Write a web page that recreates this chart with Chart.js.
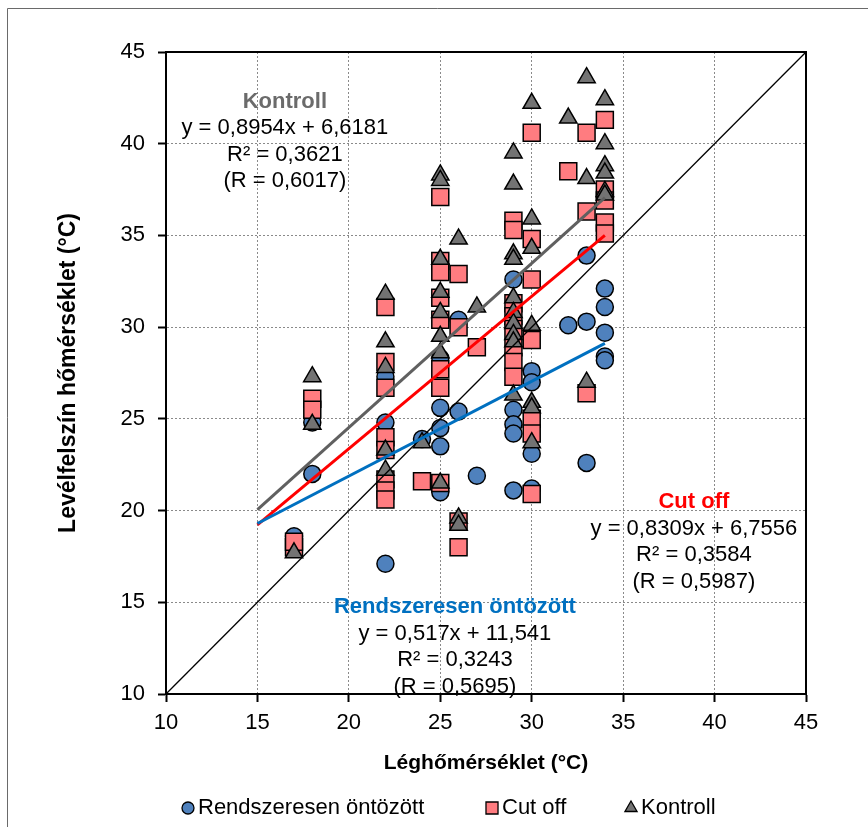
<!DOCTYPE html>
<html>
<head>
<meta charset="utf-8">
<script src="https://cdn.jsdelivr.net/npm/chart.js@4.4.0/dist/chart.umd.min.js"></script>
<style>
    html, body { margin: 0; padding: 0; background: #fff; }
    #wrap { width: 868px; height: 827px; position: relative; }
</style>
</head>
<body>
<div id="wrap"><canvas id="myChart" width="868" height="827"></canvas></div>
<script>
'use strict';

var seriesNames = ['Rendszeresen öntözött', 'Cut off', 'Kontroll'];
var axisTicks = [10, 15, 20, 25, 30, 35, 40, 45];

// Rendszeresen öntözött
var irrigatedX = [17, 18, 18, 22, 22, 22, 24, 25, 25, 25, 25, 25, 26, 26, 27,
    29, 29, 29, 29, 29, 30, 30, 30, 30, 32, 33, 33, 33, 34, 34, 34, 34, 34];
var irrigatedY = [18.6, 22.0, 24.8, 17.1, 24.8, 27.3, 23.9, 25.6, 24.5, 23.5, 21.0, 28.3, 30.4, 25.4, 21.9,
    32.6, 25.5, 24.7, 24.2, 21.1, 27.6, 27.0, 23.1, 21.2, 30.1, 30.3, 33.9, 22.6, 32.1, 31.1, 29.7, 28.4, 28.2];

// Cut off
var cutX = [17, 17, 18, 18, 22, 22, 22, 22, 22, 22, 22, 22, 24,
    25, 25, 25, 25, 25, 25, 25, 25, 26, 26, 26, 26, 27,
    29, 29, 29, 29, 29, 29, 29, 29, 30, 30, 30, 30, 30, 30, 30,
    32, 33, 33, 33, 34, 34, 34, 34, 34];
var cutY = [18.0, 18.3, 26.1, 25.5, 31.1, 28.1, 26.7, 24.0, 23.3, 21.7, 21.1, 20.6, 21.6,
    37.1, 33.6, 33.0, 31.6, 30.4, 27.7, 26.7, 21.5, 32.9, 30.0, 19.4, 18.0, 28.9,
    35.8, 35.3, 31.3, 30.6, 29.9, 28.9, 28.1, 27.3, 40.6, 34.8, 32.6, 29.3, 25.0, 24.2, 20.9,
    38.5, 40.6, 36.3, 26.4, 41.3, 37.5, 36.9, 35.7, 35.1];

// Kontroll
var controlX = [17, 18, 18, 22, 22, 22, 22, 22, 24,
    25, 25, 25, 25, 25, 25, 25, 25, 26, 26, 26, 27,
    29, 29, 29, 29, 29, 29, 29, 29, 29, 29, 30, 30, 30, 30, 30, 30, 30,
    32, 33, 33, 33, 34, 34, 34, 34, 34, 34];
var controlY = [17.7, 27.3, 24.7, 31.8, 29.2, 27.8, 23.3, 22.2, 23.7,
    38.3, 38.0, 33.7, 31.9, 30.8, 29.5, 28.6, 21.5, 34.8, 19.6, 19.2, 31.1,
    39.5, 37.8, 34.0, 33.7, 31.6, 30.8, 30.2, 29.6, 29.2, 26.3, 42.2, 35.9, 34.3, 30.1, 25.9, 25.6, 23.7,
    41.4, 43.6, 38.1, 27.0, 42.4, 40.0, 38.8, 38.4, 37.4, 37.2];

// trend lines (same order as seriesNames)
var trendSlope = [0.517, 0.8309, 0.8954];
var trendIntercept = [11.541, 6.7556, 6.6181];
var trendRange = [15, 34];
var trendLabels = [
    ['y = 0,517x + 11,541', 'R² = 0,3243', '(R = 0,5695)'],
    ['y = 0,8309x + 6,7556', 'R² = 0,3584', '(R = 0,5987)'],
    ['y = 0,8954x + 6,6181', 'R² = 0,3621', '(R = 0,6017)']
];
var oneToOne = [10, 45];

var FONT = '"Liberation Sans", Arial, Helvetica, sans-serif';
var markerFill = ['#4F81BD', '#FF7C80', '#737373'];
var markerStyle = ['circle', 'rect', 'triangle'];
var markerRadius = [8.5, 12, 10];
var lineColor = ['#0070C0', '#FF0000', '#606060'];
var titleColor = ['#0070C0', '#FF0000', '#6B6B6B'];
// where each equation block sits (data units: centre x, first line y)
var labelPos = [[25.8, 14.74], [38.87, 20.47], [16.5, 42.28]];
var legendX = [188, 492, 631];

function toPoints(xs, ys) {
    return xs.map(function (x, i) { return { x: x, y: ys[i] }; });
}

var seriesPoints = [toPoints(irrigatedX, irrigatedY), toPoints(cutX, cutY), toPoints(controlX, controlY)];

var datasets = [];
seriesPoints.forEach(function (pts, i) {
    datasets.push({
        label: seriesNames[i],
        data: pts,
        pointStyle: markerStyle[i],
        pointRadius: markerRadius[i],
        pointHoverRadius: markerRadius[i],
        backgroundColor: markerFill[i],
        borderColor: '#000',
        pointBorderWidth: 1.5,
        order: 3 - i
    });
});
trendSlope.forEach(function (m, i) {
    datasets.push({
        label: 'trend ' + seriesNames[i],
        data: trendRange.map(function (x) { return { x: x, y: m * x + trendIntercept[i] }; }),
        showLine: true,
        pointRadius: 0,
        borderColor: lineColor[i],
        borderWidth: 3,
        order: 0
    });
});
datasets.push({
    label: '1:1',
    data: oneToOne.map(function (v) { return { x: v, y: v }; }),
    showLine: true,
    pointRadius: 0,
    borderColor: '#000',
    borderWidth: 1.3,
    order: 0
});

// white background, outer frame, top/right plot border
var framePlugin = {
    id: 'frame',
    beforeDraw: function (chart) {
        var c = chart.ctx;
        c.save();
        c.fillStyle = '#fff';
        c.fillRect(0, 0, chart.width, chart.height);
        c.strokeStyle = '#6a6a6a';
        c.lineWidth = 1;
        c.beginPath();
        c.moveTo(7.5, chart.height);
        c.lineTo(7.5, 8.5);
        c.lineTo(chart.width, 8.5);
        c.stroke();
        c.restore();
    },
    afterDatasetsDraw: function (chart) {
        var a = chart.chartArea, c = chart.ctx;
        c.save();
        c.strokeStyle = '#000';
        c.lineWidth = 2;
        c.beginPath();
        c.moveTo(a.left, a.top);
        c.lineTo(a.right, a.top);
        c.lineTo(a.right, a.bottom);
        c.stroke();
        c.restore();
    }
};

// equation texts
var labelPlugin = {
    id: 'eqLabels',
    afterDraw: function (chart) {
        var c = chart.ctx, sx = chart.scales.x, sy = chart.scales.y;
        c.save();
        c.textAlign = 'center';
        c.textBaseline = 'middle';
        labelPos.forEach(function (p, i) {
            var px = sx.getPixelForValue(p[0]);
            var py = sy.getPixelForValue(p[1]);
            c.font = 'bold 22px ' + FONT;
            c.fillStyle = titleColor[i];
            c.fillText(seriesNames[i], px, py);
            c.font = '22px ' + FONT;
            c.fillStyle = '#000';
            trendLabels[i].forEach(function (t, k) {
                c.fillText(t, px, py + 26.5 * (k + 1));
            });
        });
        c.restore();
    }
};

// legend below the axis title
var legendPlugin = {
    id: 'bottomLegend',
    afterDraw: function (chart) {
        var c = chart.ctx;
        var y = 808;
        c.save();
        c.font = '22px ' + FONT;
        c.textBaseline = 'middle';
        c.textAlign = 'left';
        seriesNames.forEach(function (name, i) {
            var x = legendX[i];
            c.fillStyle = markerFill[i];
            c.strokeStyle = '#000';
            c.lineWidth = 1.3;
            var r = [6, 8.5, 7][i];
            Chart.helpers.drawPoint(c, { pointStyle: markerStyle[i], radius: r, borderWidth: 1.3, rotation: 0 }, x, y);
            c.fillStyle = '#000';
            c.fillText(name, x + 10, y);
        });
        c.restore();
    }
};

var ctx = document.getElementById('myChart').getContext('2d');

var chart = new Chart(ctx, {
    type: 'scatter',
    data: { datasets: datasets },
    options: {
        responsive: false,
        animation: false,
        events: [],
        layout: { padding: { top: 52, right: 62, left: 0, bottom: 0 } },
        plugins: {
            legend: { display: false },
            tooltip: { enabled: false }
        },
        scales: {
            x: {
                type: 'linear',
                min: 10,
                max: 45,
                afterBuildTicks: function (s) { s.ticks = axisTicks.map(function (v) { return { value: v }; }); },
                ticks: { font: { family: FONT, size: 22 }, color: '#000', padding: 8, maxRotation: 0 },
                grid: { color: '#8a8a8a', lineWidth: 1, tickColor: '#000', tickLength: 8, tickWidth: 2 },
                border: { color: '#000', width: 2, dash: [2, 2] },
                title: {
                    display: true,
                    text: 'Léghőmérséklet (°C)',
                    color: '#000',
                    font: { family: FONT, size: 21, weight: 'bold' },
                    padding: { top: 0, bottom: 51 }
                },
                afterFit: function (s) { s.height = 133; }
            },
            y: {
                type: 'linear',
                min: 10,
                max: 45,
                afterBuildTicks: function (s) { s.ticks = axisTicks.map(function (v) { return { value: v }; }); },
                ticks: { font: { family: FONT, size: 22 }, color: '#000', padding: 13 },
                grid: { color: '#8a8a8a', lineWidth: 1, tickColor: '#000', tickLength: 8, tickWidth: 2 },
                border: { color: '#000', width: 2, dash: [2, 2] },
                title: {
                    display: true,
                    text: 'Levélfelszín hőmérséklet (°C)',
                    color: '#000',
                    font: { family: FONT, size: 23, weight: 'bold' },
                    padding: { top: 55, bottom: 0 }
                },
                afterFit: function (s) { s.width = 166; }
            }
        }
    },
    plugins: [framePlugin, labelPlugin, legendPlugin]
});
</script>
</body>
</html>
